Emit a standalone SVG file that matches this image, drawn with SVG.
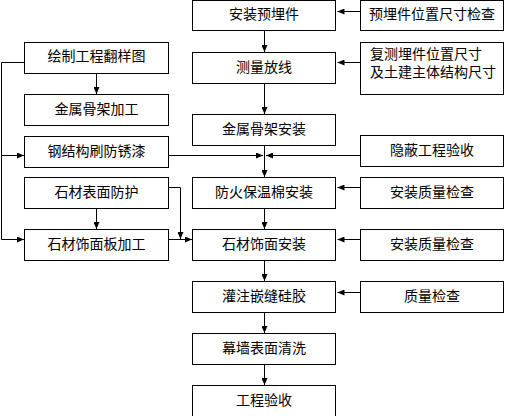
<svg xmlns="http://www.w3.org/2000/svg" width="516" height="416" viewBox="0 0 516 416">
<style>
.b{fill:#fff;stroke:#000;stroke-width:1}
.t{font-family:"Noto Sans CJK SC","Noto Sans",sans-serif;font-size:14px;fill:#000;text-anchor:middle}
.tl{font-family:"Noto Sans CJK SC","Noto Sans",sans-serif;font-size:14px;fill:#000}
.c{fill:none;stroke:#000;stroke-width:1;marker-end:url(#a)}
.p{fill:none;stroke:#000;stroke-width:1}
</style>
<defs>
<marker id="a" viewBox="0 0 7 6" refX="7" refY="3" markerWidth="7" markerHeight="6" markerUnits="userSpaceOnUse" orient="auto">
<path d="M0,0 L7,3 L0,6 z" fill="#000"/>
</marker>
</defs>
<rect width="516" height="416" fill="#fff"/>
<g id="connectors">
<path class="c" d="M264.5,30.5 V52"/>
<path class="c" d="M264.5,83.5 V114"/>
<path class="c" d="M264.5,145.5 V177"/>
<path class="c" d="M264.5,208.5 V229"/>
<path class="c" d="M264.5,260.5 V281"/>
<path class="c" d="M264.5,312.5 V333"/>
<path class="c" d="M264.5,364.5 V385"/>
<path class="c" d="M360.5,11.5 H337.5"/>
<path class="c" d="M360.5,62.5 H337.5"/>
<path class="c" d="M360.5,155.5 H266"/>
<path class="c" d="M360.5,187.5 H337.5"/>
<path class="c" d="M360.5,239.5 H337.5"/>
<path class="c" d="M360.5,292.5 H337.5"/>
<path class="c" d="M168.5,155.5 H263"/>
<path class="c" d="M96.5,73.5 V94"/>
<path class="c" d="M96.5,208.5 V229"/>
<path class="c" d="M168.5,187.5 H180.5 V239"/>
<path class="c" d="M168.5,239.5 H192"/>
<path class="c" d="M24.5,62.5 H1.5 V239.5 H24"/>
<path class="c" d="M1.5,155.5 H24"/>
</g>
<g id="n1"><rect class="b" x="192.5" y="0.5" width="143" height="30"/><text class="t" x="264" y="19">安装预埋件</text></g>
<g id="n2"><rect class="b" x="192.5" y="52.5" width="143" height="31"/><text class="t" x="264" y="71.5">测量放线</text></g>
<g id="n3"><rect class="b" x="192.5" y="114.5" width="143" height="31"/><text class="t" x="264" y="133.5">金属骨架安装</text></g>
<g id="n4"><rect class="b" x="192.5" y="177.5" width="143" height="31"/><text class="t" x="264" y="196.5">防火保温棉安装</text></g>
<g id="n5"><rect class="b" x="192.5" y="229.5" width="143" height="31"/><text class="t" x="264" y="248.5">石材饰面安装</text></g>
<g id="n6"><rect class="b" x="192.5" y="281.5" width="143" height="31"/><text class="t" x="264" y="300.5">灌注嵌缝硅胶</text></g>
<g id="n7"><rect class="b" x="192.5" y="333.5" width="143" height="31"/><text class="t" x="264" y="352.5">幕墙表面清洗</text></g>
<g id="n8"><rect class="b" x="192.5" y="385.5" width="143" height="32"/><text class="t" x="264" y="404.5">工程验收</text></g>
<g id="r1"><rect class="b" x="360.5" y="0.5" width="143" height="30"/><text class="t" x="432" y="19">预埋件位置尺寸检查</text></g>
<g id="r2"><rect class="b" x="360.5" y="42.5" width="143" height="52"/><text class="tl" x="370" y="58.5">复测埋件位置尺寸</text><text class="tl" x="370" y="77">及土建主体结构尺寸</text></g>
<g id="r3"><rect class="b" x="360.5" y="135.5" width="143" height="31"/><text class="t" x="432" y="154.5">隐蔽工程验收</text></g>
<g id="r4"><rect class="b" x="360.5" y="177.5" width="143" height="31"/><text class="t" x="432" y="196.5">安装质量检查</text></g>
<g id="r5"><rect class="b" x="360.5" y="229.5" width="143" height="31"/><text class="t" x="432" y="248.5">安装质量检查</text></g>
<g id="r6"><rect class="b" x="360.5" y="281.5" width="143" height="31"/><text class="t" x="432" y="300.5">质量检查</text></g>
<g id="l1"><rect class="b" x="24.5" y="42.5" width="144" height="31"/><text class="t" x="96.5" y="61">绘制工程翻样图</text></g>
<g id="l2"><rect class="b" x="24.5" y="94.5" width="144" height="31"/><text class="t" x="96.5" y="113.5">金属骨架加工</text></g>
<g id="l3"><rect class="b" x="24.5" y="136.5" width="144" height="31"/><text class="t" x="96.5" y="155.5">钢结构刷防锈漆</text></g>
<g id="l4"><rect class="b" x="24.5" y="177.5" width="144" height="31"/><text class="t" x="96.5" y="196.5">石材表面防护</text></g>
<g id="l5"><rect class="b" x="24.5" y="229.5" width="144" height="31"/><text class="t" x="96.5" y="248.5">石材饰面板加工</text></g>
</svg>
